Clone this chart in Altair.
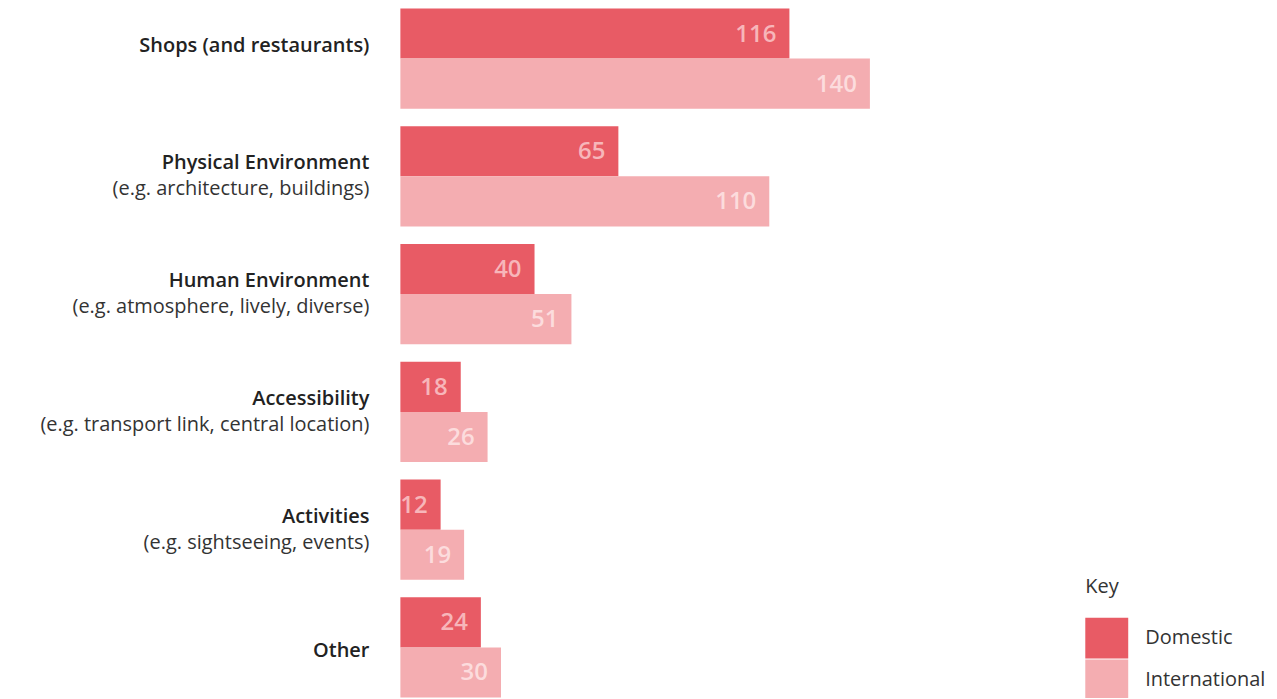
import altair as alt
import pandas as pd

categories = ["Shops (and restaurants)", "Physical Environment", "Human Environment",
              "Accessibility", "Activities", "Other"]
subtitles = ["", "(e.g. architecture, buildings)", "(e.g. atmosphere, lively, diverse)",
             "(e.g. transport link, central location)", "(e.g. sightseeing, events)", None]
series = ["Domestic", "International"]
domestic = [116, 65, 40, 18, 12, 24]
international = [140, 110, 51, 26, 19, 30]

bar_colors = ["#e85b65", "#f4adb1"]
label_colors = ["#f7b6ba", "#fcdcdd"]
FONT = "Open Sans"

rows = []
for c, d, i in zip(categories, domestic, international):
    rows.append({"cat": c, "series": "Domestic", "value": d})
    rows.append({"cat": c, "series": "International", "value": i})
bars_df = pd.DataFrame(rows)
labels_df = pd.DataFrame({"cat": categories, "sub": subtitles})

y_enc = alt.Y("cat:N", sort=categories, axis=None,
              scale=alt.Scale(paddingInner=0.15, paddingOuter=0))
x_enc = alt.X("value:Q", axis=None, scale=alt.Scale(domain=[0, 259], nice=False))
yoff = alt.YOffset("series:N", sort=series, scale=alt.Scale(paddingInner=0, paddingOuter=0))

bars = alt.Chart(bars_df).mark_bar(cornerRadius=0).encode(
    y=y_enc, x=x_enc, yOffset=yoff,
    color=alt.Color("series:N", sort=series,
                    scale=alt.Scale(domain=series, range=bar_colors),
                    legend=alt.Legend(
                        title="Key", orient="none", legendX=686, legendY=569,
                        titleFont=FONT, titleFontSize=20, titleFontWeight="normal",
                        titleColor="#333333", titlePadding=20,
                        labelFont=FONT, labelFontSize=20, labelColor="#333333",
                        labelOffset=17, rowPadding=0, padding=0,
                        symbolType="M-1,-0.95L1,-0.95L1,0.95L-1,0.95Z",
                        symbolSize=1849, symbolStrokeWidth=0, symbolOpacity=1)),
)

values = alt.Chart(bars_df).mark_text(
    align="right", baseline="middle", dx=-13, dy=1, font=FONT, fontSize=24, fontWeight=600
).encode(
    y=y_enc, x=x_enc, yOffset=yoff, text="value:Q",
    color=alt.Color("series:N", sort=series,
                    scale=alt.Scale(domain=series, range=label_colors), legend=None),
)

base_lbl = alt.Chart(labels_df)
bold_two = base_lbl.transform_filter("datum.sub != null").mark_text(
    align="right", baseline="middle", dy=-13, font=FONT, fontSize=20,
    fontWeight=600, color="#222222"
).encode(y=y_enc, x=alt.value(-31), text="cat:N")
bold_one = base_lbl.transform_filter("datum.sub == null").mark_text(
    align="right", baseline="middle", dy=4, font=FONT, fontSize=20,
    fontWeight=600, color="#222222"
).encode(y=y_enc, x=alt.value(-31), text="cat:N")
sub_lbl = base_lbl.transform_filter("datum.sub != null && datum.sub != ''").mark_text(
    align="right", baseline="middle", dy=13, font=FONT, fontSize=20,
    color="#333333"
).encode(y=y_enc, x=alt.value(-31), text="sub:N")

chart = alt.layer(bars, values, bold_two, bold_one, sub_lbl).resolve_scale(
    color="independent"
).properties(
    width=870, height=690,
    autosize=alt.AutoSizeParams(type="none"),
    padding={"left": 393, "top": 0, "right": 0, "bottom": 0},
).configure_view(stroke=None)

chart.save("out.html", embed_options={"renderer": "svg", "actions": False})
